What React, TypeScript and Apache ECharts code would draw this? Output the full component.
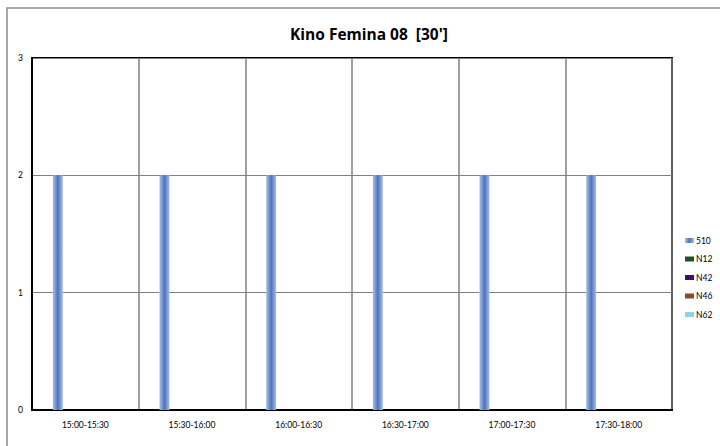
import React, { useEffect, useRef } from "react";
import * as echarts from "echarts";

const categories = ["15:00-15:30", "15:30-16:00", "16:00-16:30", "16:30-17:00", "17:00-17:30", "17:30-18:00"];
const seriesNames = ["510", "N12", "N42", "N46", "N62"];
const s510 = [2, 2, 2, 2, 2, 2];
const sN12 = [0, 0, 0, 0, 0, 0];
const sN42 = [0, 0, 0, 0, 0, 0];
const sN46 = [0, 0, 0, 0, 0, 0];
const sN62 = [0, 0, 0, 0, 0, 0];
const seriesData = [s510, sN12, sN42, sN46, sN62];
const colors = ["#6f92d2", "#1f4e2c", "#3d0f6b", "#8a4b2a", "#8fd2e6"];

const FONT = "Lato, 'Open Sans', sans-serif";

export default function App() {
  const ref = useRef<HTMLDivElement>(null);
  useEffect(() => {
    document.body.style.margin = "0";
    const chart = echarts.init(ref.current!, undefined, { renderer: "svg" });
    const barColor = new echarts.graphic.LinearGradient(0, 0, 1, 0, [
      { offset: 0, color: "#a8bfe8" },
      { offset: 0.5, color: "#4f74bd" },
      { offset: 1, color: "#a8bfe8" },
    ]);
    chart.setOption({
      animation: false,
      backgroundColor: "#fff",
      title: {
        text: "Kino Femina 08  [30']",
        left: 364,
        top: 21,
        textAlign: "center",
        textStyle: { fontFamily: "'Open Sans', Lato, sans-serif", fontSize: 15.5, fontWeight: "bold", color: "#000" },
      },
      graphic: [
        {
          type: "rect",
          shape: { x: 7, y: 8, width: 760, height: 500 },
          style: { fill: "none", stroke: "#8c8c8c", lineWidth: 1.5 },
          silent: true,
          z: -1,
        },
      ],
      legend: {
        orient: "vertical",
        left: 680,
        top: 231,
        itemWidth: 9,
        itemHeight: 5,
        itemGap: 9.5,
        icon: "rect",
        data: seriesNames,
        textStyle: { fontFamily: FONT, fontSize: 8.5, color: "#000", padding: [0, 0, 0, -3] },
      },
      grid: {
        left: 32,
        right: 48,
        top: 58,
        bottom: 36,
        show: true,
        borderColor: "#000",
        borderWidth: 2,
        backgroundColor: "transparent",
      },
      xAxis: {
        type: "category",
        data: categories,
        axisLine: { lineStyle: { color: "#000", width: 2 } },
        axisTick: { show: false },
        axisLabel: { fontFamily: FONT, fontSize: 8.5, color: "#000", margin: 10 },
        splitLine: { show: true, lineStyle: { color: "#808080", width: 1.5 } },
      },
      yAxis: {
        type: "value",
        min: 0,
        max: 3,
        interval: 1,
        axisLine: { show: true, lineStyle: { color: "#000", width: 2 } },
        axisTick: { show: false },
        axisLabel: { fontFamily: FONT, fontSize: 8.5, color: "#000", margin: 9 },
        splitLine: { show: true, lineStyle: { color: "#808080", width: 1.2 } },
      },
      series: seriesNames.map((name, i) => ({
        name,
        type: "bar",
        data: seriesData[i],
        barWidth: 10,
        barGap: "37.5%",
        itemStyle: { color: i === 0 ? barColor : colors[i] },
      })),
      color: colors,
    });
    return () => chart.dispose();
  }, []);
  return <div ref={ref} style={{ position: "absolute", left: 0, top: 0, width: 720, height: 446 }} />;
}
